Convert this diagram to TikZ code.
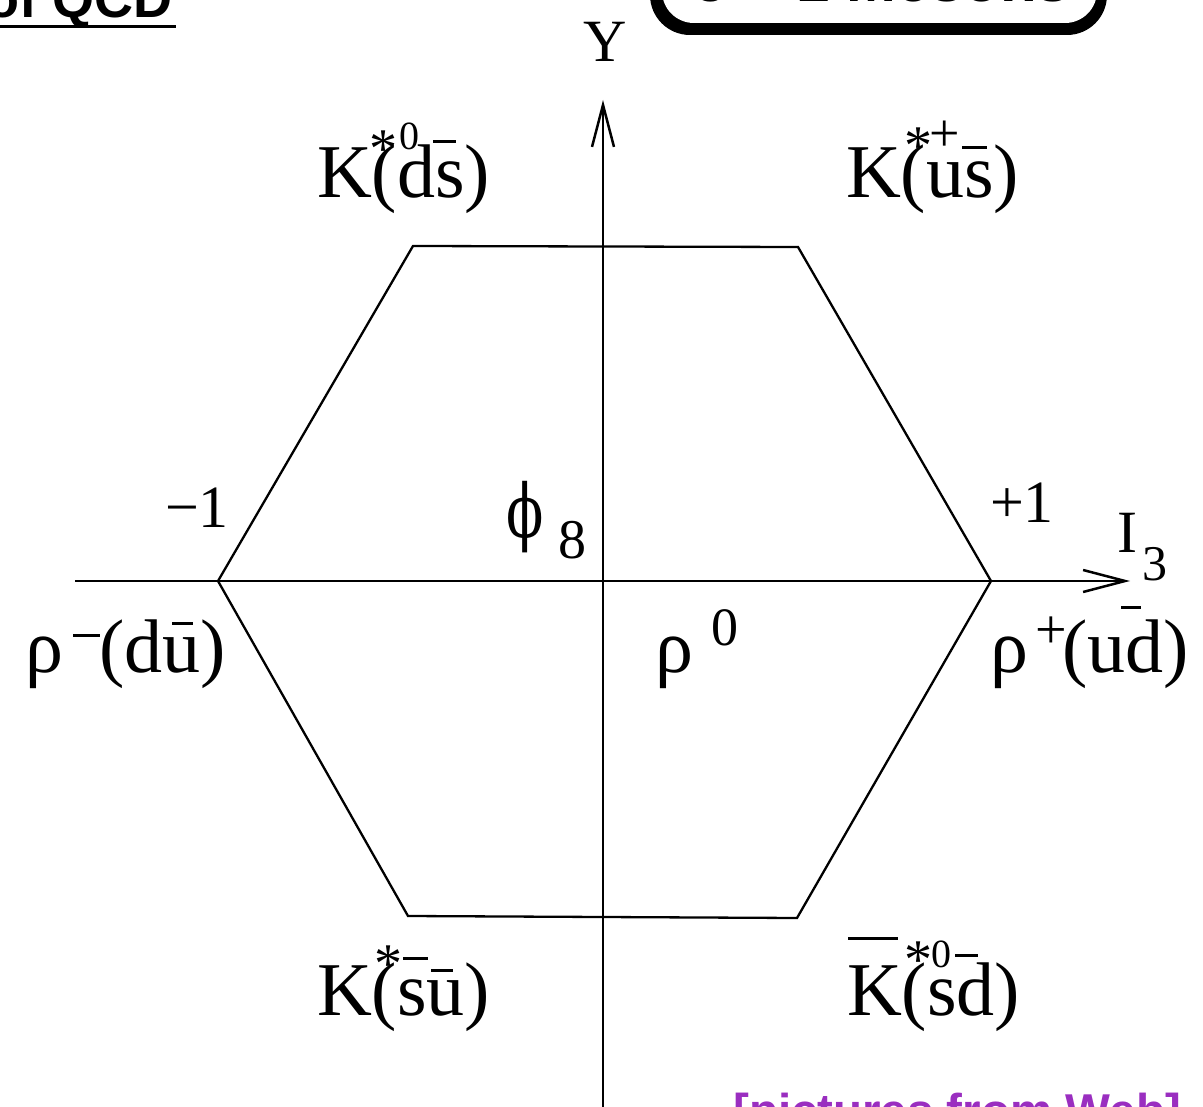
\documentclass[tikz,border=0pt]{standalone}
\usepackage{fontspec}
\setmainfont{Liberation Serif}
\newfontfamily\sansfam{Liberation Sans}
\newfontfamily\phifam{DejaVu Serif}
\usetikzlibrary{arrows.meta}
\definecolor{webpurple}{HTML}{9A2EC0}
\tikzset{
  lbl/.style={inner sep=0pt, outer sep=0pt, anchor=base west, font=\fontsize{76}{80}\selectfont},
  num/.style={lbl, font=\fontsize{60}{64}\selectfont},
  supr/.style={lbl, font=\fontsize{40}{44}\selectfont},
  starmark/.style={lbl, font=\fontsize{56}{60}\selectfont},
  barline/.style={line width=3pt},
  hexline/.style={line width=2.3pt, line join=miter},
  axisline/.style={line width=2.5pt, -{Straight Barb[length=42pt,width=22pt]}},
}
\begin{document}
\begin{tikzpicture}[x=1pt,y={(0pt,-1pt)}]
\useasboundingbox (0,0) rectangle (1203,1107);
\clip (0,0) rectangle (1203,1107);
% title fragment
\node[anchor=base east, inner sep=0pt, font=\sansfam\bfseries\fontsize{54}{60}\selectfont] (title) at (173,18) {of QCD};
\draw[line width=3pt] (0,26.5) -- (176,26.5);
% box fragment
\fill[rounded corners=40pt] (650,-80) rectangle (1107,35);
\fill[white, rounded corners=32pt] (662,-80) rectangle (1097,23);
\begin{scope}
  \clip[rounded corners=32pt] (662,-80) rectangle (1097,23);
  \node[anchor=base west, inner sep=0pt, font=\sansfam\bfseries\fontsize{60}{64}\selectfont] (boxtext) at (695,2) {J = 1 Mesons};
\end{scope}
% hexagon
\coordinate (hL) at (218,581);
\coordinate (hTL) at (413,246);
\coordinate (hTR) at (798,247);
\coordinate (hR) at (991,581);
\coordinate (hBR) at (797,918);
\coordinate (hBL) at (408,916);
\draw[hexline] (hL) -- (hTL) -- (hTR) -- (hR) -- (hBR) -- (hBL) -- cycle;
% axes
\coordinate (xs) at (75,581);
\coordinate (xe) at (1130,581);
\coordinate (ys) at (603,1112);
\coordinate (ye) at (603,100);
\draw[axisline] (xs) -- (xe);
\draw[axisline] (ys) -- (ye);
% axis labels
\node[num, anchor=base] (ylab) at (605,62) {Y};
\node[num] (ilab) at (1117,552) {I};
\node[lbl, font=\fontsize{50}{54}\selectfont] (isub) at (1142,580) {3};
\node[num] (mone) at (165,527) {−1};
\node[num] (pone) at (990,522) {+1};
% phi_8
\node[lbl, font=\phifam\fontsize{74}{78}\selectfont, xscale=0.74] (phi) at (506,537) {ϕ};
\node[lbl, font=\fontsize{56}{60}\selectfont] (phisub) at (558,558) {8};
% K*0 (d sbar)
\node[lbl] (k0) at (317,198) {K(ds)};
\node[starmark] (k0a) at (369,168) {*};
\node[supr] (k0s) at (399,150) {0};
\draw[barline] (433,142) -- (456,142);
% K*+ (u sbar)
\node[lbl] (kp) at (846,198) {K(us)};
\node[starmark] (kpa) at (904,165) {*};
\node[lbl, font=\fontsize{54}{58}\selectfont] (kps) at (929,152) {+};
\draw[barline] (962,148) -- (987,148);
% K*- (s ubar)
\node[lbl] (km) at (317,1015) {K(su)};
\node[starmark] (kma) at (374,982) {*};
\draw[barline] (403,958) -- (428,958);
\draw[barline] (431,970) -- (453,970);
% Kbar*0 (s dbar)
\node[lbl] (kb) at (847,1015) {K(sd)};
\draw[barline] (848,938) -- (898,938);
\node[starmark] (kba) at (904,978) {*};
\node[supr] (kbs) at (931,967) {0};
\draw[barline] (955,955) -- (978,955);
% rho-
\node[lbl] (rm) at (25,672) {ρ};
\draw[barline] (73,635) -- (100,635);
\node[lbl] (rmq) at (99,672) {(du)};
\draw[barline] (172,623) -- (193,623);
% rho0
\node[lbl] (r0) at (655,672) {ρ};
\node[lbl, font=\fontsize{54}{58}\selectfont] (r0s) at (711,645) {0};
% rho+
\node[lbl] (rp) at (990,672) {ρ};
\node[lbl, font=\fontsize{56}{60}\selectfont] (rps) at (1035,648) {+};
\node[lbl] (rpq) at (1062,672) {(ud)};
\draw[barline] (1121,607) -- (1141,607);
% footer fragment
\node[anchor=base west, inner sep=0pt, text=webpurple, font=\sansfam\bfseries\fontsize{47.5}{52}\selectfont] (web) at (733,1127) {[pictures from Web]};
\end{tikzpicture}
\end{document}
